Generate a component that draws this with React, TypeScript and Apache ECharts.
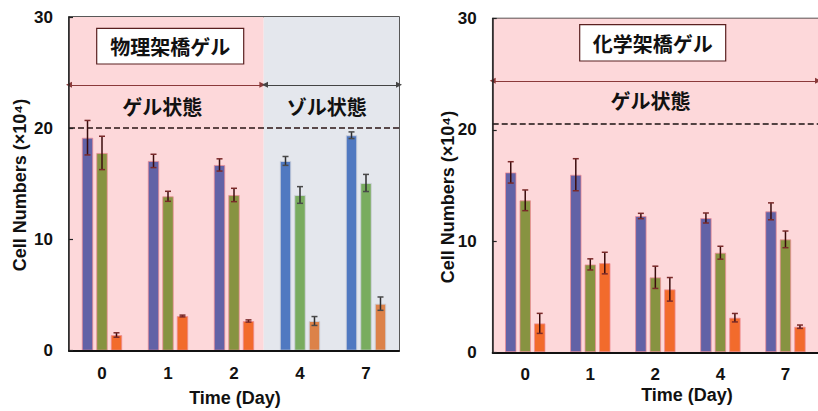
import React, { useEffect, useRef } from "react";
import * as echarts from "echarts";

// ---------- data ----------
const categories = ["0", "1", "2", "4", "7"];

// physical cross-linked gel (left)
const physBlue = [19.15, 17.06, 16.7, 17.06, 19.37];
const physBlueErr = [1.55, 0.6, 0.55, 0.4, 0.3];
const physGreen = [17.78, 13.88, 14.0, 14.0, 15.08];
const physGreenErr = [1.5, 0.45, 0.6, 0.75, 0.77];
const physOrange = [1.41, 3.12, 2.67, 2.67, 4.23];
const physOrangeErr = [0.2, 0.08, 0.1, 0.4, 0.6];

// chemical cross-linked gel (right)
const chemBlue = [16.17, 15.96, 12.25, 12.07, 12.67];
const chemBlueErr = [0.96, 1.44, 0.24, 0.45, 0.76];
const chemGreen = [13.66, 7.9, 6.74, 8.95, 10.15];
const chemGreenErr = [0.93, 0.5, 1.0, 0.58, 0.75];
const chemOrange = [2.6, 8.02, 5.66, 3.11, 2.3];
const chemOrangeErr = [0.9, 0.97, 1.06, 0.38, 0.15];

const solFromIndex = 3; // days 4 and 7 are in sol state (left chart)
const gelSolBoundary = 2.95; // in category units
const physRefLine = 20;
const chemRefLine = 20.5;
const physArrowLevel = 23.9;
const chemArrowLevel = 24.4;

const yTicks = { min: 0, max: 30, interval: 10 };

// ---------- styles ----------
const FONT = "'Liberation Sans', Arial, 'Noto Sans CJK JP', sans-serif";
const JP = "'Noto Sans CJK JP', 'Liberation Sans', sans-serif";
const PINK = "#fdd8da";
const GRAY = "#e4e7ed";
const gelColors = ["#6262a6", "#879341", "#f26b2c"];
const solColors = ["#5079c1", "#79ac5f", "#dc8249"];
const BAR_W = 11.5;
const BAR_GAP = 0.26;
const BAR_STEP = BAR_W * (1 + BAR_GAP);

function barSeries(values: number[], k: number, xi: number, yi: number, solFrom: number | null) {
  return {
    type: "bar",
    xAxisIndex: xi,
    yAxisIndex: yi,
    barWidth: BAR_W,
    barGap: BAR_GAP * 100 + "%",
    z: 3,
    silent: true,
    data: values.map((v, i) => {
      const sol = solFrom !== null && i >= solFrom;
      return {
        value: v,
        itemStyle: {
          color: sol ? solColors[k] : gelColors[k],
          borderColor: sol ? "rgba(205,208,218,0.9)" : "rgba(238,140,150,0.75)",
          borderWidth: 1,
        },
      };
    }),
  };
}

function errSeries(values: number[], errs: number[], k: number, xi: number, yi: number, solFrom: number | null) {
  return {
    type: "custom",
    xAxisIndex: xi,
    yAxisIndex: yi,
    z: 5,
    silent: true,
    data: values.map((v, i) => [i, v, errs[i]]),
    renderItem: (params: any, api: any) => {
      const i = api.value(0);
      const v = api.value(1);
      const e = api.value(2);
      const c = api.coord([i, v]);
      const top = api.coord([i, v + e]);
      const bot = api.coord([i, v - e]);
      const x = c[0] + (k - 1) * BAR_STEP;
      const sol = solFrom !== null && i >= solFrom;
      const stem = sol ? "#2e2e2e" : "#3a0c0c";
      const cap = sol ? "#4a4a4a" : "#7a2a2a";
      return {
        type: "group",
        children: [
          { type: "line", shape: { x1: x, y1: top[1], x2: x, y2: bot[1] }, style: { stroke: stem, lineWidth: 1.5 } },
          { type: "line", shape: { x1: x - 3, y1: top[1], x2: x + 3, y2: top[1] }, style: { stroke: cap, lineWidth: 1.5 } },
          { type: "line", shape: { x1: x - 3, y1: bot[1], x2: x + 3, y2: bot[1] }, style: { stroke: cap, lineWidth: 1.5 } },
        ],
      };
    },
  };
}

const catAxis = (gridIndex: number) => ({
  type: "category",
  gridIndex,
  data: categories,
  z: 10,
  axisLine: { lineStyle: { color: "#111", width: 2 } },
  axisTick: { show: false },
  axisLabel: { fontSize: 17, fontWeight: "bold", color: "#111", margin: 14, fontFamily: FONT },
});

const hiddenAxis = (gridIndex: number) => ({
  type: "value",
  gridIndex,
  min: 0,
  max: categories.length,
  show: false,
});

const valAxis = (gridIndex: number) => ({
  type: "value",
  gridIndex,
  ...yTicks,
  z: 10,
  splitLine: { show: false },
  axisLine: { show: true, lineStyle: { color: "#222", width: 1.5 } },
  axisTick: { show: true, inside: true, length: 4, lineStyle: { color: "#222", width: 1.2 } },
  axisLabel: { fontSize: 17, fontWeight: "bold", color: "#111", margin: 16, fontFamily: FONT },
});

const jpText = (text: string, x: number, y: number, size = 20) => ({
  type: "text",
  x,
  y,
  z: 20,
  style: {
    text,
    fill: "#111",
    font: `bold ${size}px ${JP}`,
    align: "center",
    verticalAlign: "middle",
  },
});

const enText = (text: string, x: number, y: number, size: number, rotation = 0) => ({
  type: "text",
  x,
  y,
  rotation,
  z: 20,
  style: {
    text,
    fill: "#111",
    font: `bold ${size}px ${FONT}`,
    align: "center",
    verticalAlign: "middle",
  },
});

const arrowEnd = { symbol: "triangle", symbolSize: [6, 6] };

const option: any = {
  animation: false,
  grid: [
    { left: 69, top: 17, width: 330, height: 333.7, show: true, backgroundColor: "transparent", borderColor: "#222", borderWidth: 1.5 },
    { left: 492.7, top: 18.5, width: 330, height: 333.8, show: true, backgroundColor: "transparent", borderColor: "#222", borderWidth: 1.5 },
  ],
  xAxis: [catAxis(0), catAxis(1), hiddenAxis(0), hiddenAxis(1)],
  yAxis: [valAxis(0), valAxis(1)],
  series: [
    {
      type: "scatter",
      xAxisIndex: 2,
      yAxisIndex: 0,
      data: [],
      z: -1,
      silent: true,
      markArea: {
        silent: true,
        data: [
          [{ xAxis: 0, itemStyle: { color: PINK } }, { xAxis: gelSolBoundary }],
          [{ xAxis: gelSolBoundary, itemStyle: { color: GRAY } }, { xAxis: categories.length }],
        ],
      },
    },
    {
      type: "scatter",
      xAxisIndex: 3,
      yAxisIndex: 1,
      data: [],
      z: -1,
      silent: true,
      markArea: {
        silent: true,
        data: [[{ xAxis: 0, itemStyle: { color: PINK } }, { xAxis: categories.length }]],
      },
    },
    {
      type: "scatter",
      xAxisIndex: 2,
      yAxisIndex: 0,
      data: [],
      z: 4,
      silent: true,
      markLine: {
        silent: true,
        symbol: "none",
        label: { show: false },
        data: [
          { yAxis: physRefLine, lineStyle: { color: "#2a1414", type: [6, 3], width: 1.5 } },
          [
            { coord: [0, physArrowLevel], ...arrowEnd, lineStyle: { color: "#8b3a3a", width: 1, type: "solid" } },
            { coord: [gelSolBoundary - 0.02, physArrowLevel], ...arrowEnd },
          ],
          [
            { coord: [gelSolBoundary + 0.02, physArrowLevel], ...arrowEnd, lineStyle: { color: "#444", width: 1, type: "solid" } },
            { coord: [categories.length, physArrowLevel], ...arrowEnd },
          ],
        ],
      },
    },
    {
      type: "scatter",
      xAxisIndex: 3,
      yAxisIndex: 1,
      data: [],
      z: 4,
      silent: true,
      markLine: {
        silent: true,
        symbol: "none",
        label: { show: false },
        data: [
          { yAxis: chemRefLine, lineStyle: { color: "#1a1010", type: [6, 3], width: 1.5 } },
          [
            { coord: [0, chemArrowLevel], ...arrowEnd, lineStyle: { color: "#8b3a3a", width: 1, type: "solid" } },
            { coord: [categories.length, chemArrowLevel], ...arrowEnd },
          ],
        ],
      },
    },
    barSeries(physBlue, 0, 0, 0, solFromIndex),
    barSeries(physGreen, 1, 0, 0, solFromIndex),
    barSeries(physOrange, 2, 0, 0, solFromIndex),
    barSeries(chemBlue, 0, 1, 1, null),
    barSeries(chemGreen, 1, 1, 1, null),
    barSeries(chemOrange, 2, 1, 1, null),
    errSeries(physBlue, physBlueErr, 0, 0, 0, solFromIndex),
    errSeries(physGreen, physGreenErr, 1, 0, 0, solFromIndex),
    errSeries(physOrange, physOrangeErr, 2, 0, 0, solFromIndex),
    errSeries(chemBlue, chemBlueErr, 0, 1, 1, null),
    errSeries(chemGreen, chemGreenErr, 1, 1, 1, null),
    errSeries(chemOrange, chemOrangeErr, 2, 1, 1, null),
  ],
  graphic: [
    {
      type: "rect",
      z: 19,
      shape: { x: 96.7, y: 28.3, width: 147, height: 35.7 },
      style: { fill: "#fff", stroke: "#5a2020", lineWidth: 1.2 },
    },
    jpText("物理架橋ゲル", 170.2, 46.4),
    {
      type: "rect",
      z: 19,
      shape: { x: 579.7, y: 24.7, width: 146, height: 36.3 },
      style: { fill: "#fff", stroke: "#5a2020", lineWidth: 1.2 },
    },
    jpText("化学架橋ゲル", 652.7, 43),
    jpText("ゲル状態", 162.3, 106),
    jpText("ゾル状態", 326.7, 106),
    jpText("ゲル状態", 650.5, 100),
    enText("Cell Numbers (×10⁴)", 20, 185, 18, Math.PI / 2),
    enText("Cell Numbers (×10⁴)", 448, 197, 18, Math.PI / 2),
    enText("Time (Day)", 235, 398, 18),
    enText("Time (Day)", 687, 395, 18),
  ],
};

export default function App() {
  const ref = useRef<HTMLDivElement>(null);
  useEffect(() => {
    document.body.style.margin = "0";
    const chart = echarts.init(ref.current!, null, { renderer: "svg" });
    chart.setOption(option);
    return () => chart.dispose();
  }, []);
  return <div ref={ref} style={{ width: 818, height: 411 }} />;
}
